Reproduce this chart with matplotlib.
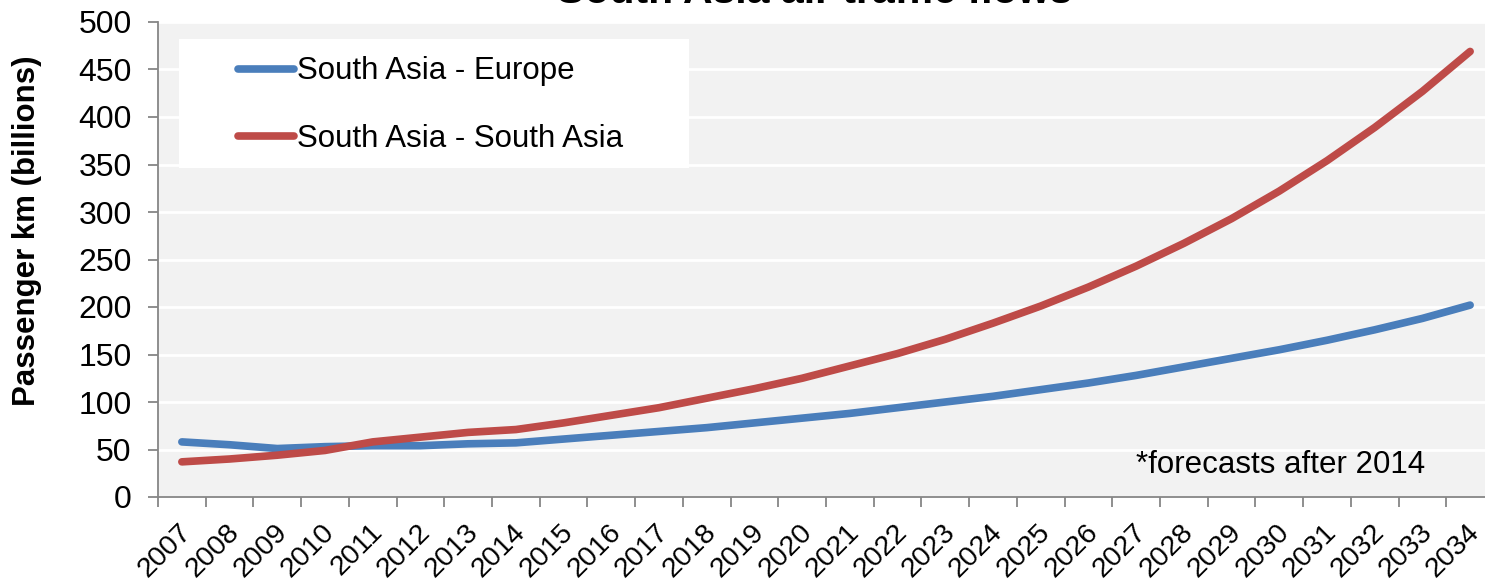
import matplotlib.pyplot as plt
import matplotlib.patches as mpatches
import matplotlib.transforms as mtransforms
from matplotlib.ticker import FixedLocator, NullFormatter

plt.rcParams['font.family'] = ['Liberation Sans', 'DejaVu Sans']

years = list(range(2007, 2035))
europe = [58, 55, 51, 53, 54, 54, 56, 57, 61, 65, 69, 73, 78, 83,
          88, 94, 100, 106, 113, 120, 128, 137, 146, 155, 165, 176, 188, 202]
south_asia = [37, 40, 44, 49, 58, 63, 68, 71, 78, 86, 94, 104, 114, 125,
              138, 151, 166, 183, 201, 221, 243, 267, 293, 322, 354, 389, 427, 469]
series_names = ['South Asia - Europe', 'South Asia - South Asia']
y_ticks = list(range(0, 501, 50))

W, H = 1485, 581
fig = plt.figure(figsize=(W / 100, H / 100), dpi=100)
# axes run a bit past the right edge, as in the original
ax = fig.add_axes([158 / W, 1 - 497 / H, 1336 / W, 475 / H])
ax.set_facecolor('#F2F2F2')

x = list(range(len(years)))
ax.plot(x, europe, color='#4A7EBB', lw=5.5, solid_capstyle='round', label=series_names[0], zorder=3)
ax.plot(x, south_asia, color='#BE4B48', lw=5.5, solid_capstyle='round', label=series_names[1], zorder=3)

ax.set_xlim(-0.5, len(years) - 0.5)
ax.set_ylim(0, 500)

ax.set_yticks(y_ticks)
ax.yaxis.grid(True, color='white', lw=2)
ax.set_axisbelow(True)

# category boundaries get the tick marks, centres get the labels
ax.xaxis.set_major_locator(FixedLocator([i - 0.5 for i in range(len(years) + 1)]))
ax.xaxis.set_major_formatter(NullFormatter())
ax.xaxis.set_minor_locator(FixedLocator(x))
ax.set_xticklabels([str(y) for y in years], minor=True, rotation=45, ha='right', va='top')
ax.tick_params(axis='x', which='minor', length=0, pad=16, labelsize=20.5)
ax.tick_params(axis='x', which='major', length=7, width=1.3, color='#868686', direction='out')
ax.tick_params(axis='y', length=7, width=1.3, color='#868686', direction='out', pad=12, labelsize=23)
shift = mtransforms.ScaledTranslation(15 / 100, 0, fig.dpi_scale_trans)
for lbl in ax.get_xticklabels(minor=True):
    lbl.set_transform(lbl.get_transform() + shift)

for s in ['top', 'right']:
    ax.spines[s].set_visible(False)
for s in ['left', 'bottom']:
    ax.spines[s].set_color('#868686')
    ax.spines[s].set_linewidth(1.3)

# white legend box, over the grid but under the legend entries
box = mpatches.Rectangle((179 / W, 1 - 168 / H), 510 / W, 129 / H, transform=fig.transFigure,
                         facecolor='white', edgecolor='none', zorder=2.5)
ax.add_patch(box)
leg = ax.legend(loc='upper left', bbox_to_anchor=(225 / W, 1 - 44 / H), bbox_transform=fig.transFigure,
                frameon=False, fontsize=22.5, handlelength=1.8, handletextpad=0.1, labelspacing=1.2,
                borderaxespad=0)
leg.set_zorder(5)

fig.text(1136 / W, 1 - 473 / H, '*forecasts after 2014', fontsize=22.5, ha='left', va='baseline')

fig.text(27 / W, 1 - 231 / H, 'Passenger km (billions)', rotation=90, fontsize=22.5, fontweight='bold',
         ha='center', va='center')
fig.text(815 / W, 1 - 3 / H, 'South Asia air traffic flows', fontsize=29.5, fontweight='bold',
         ha='center', va='baseline')

fig.savefig('out.png', dpi=100)
